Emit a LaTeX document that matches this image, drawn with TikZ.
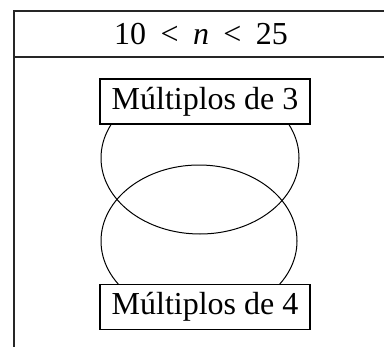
\documentclass[tikz,border=0pt]{standalone}
\usepackage{fontspec}
\setmainfont{Liberation Serif}
\usetikzlibrary{positioning}

\tikzset{
  setbox/.style={draw, fill=white, line width=0.6pt, minimum width=105pt,
                 minimum height=22.5pt, inner sep=0pt},
  frameline/.style={line width=0.8pt, draw=black!85},
  setline/.style={line width=0.5pt}
}

\begin{document}
\begin{tikzpicture}[x=0.5pt, y=-0.5pt, font=\fontsize{16}{18}\selectfont]

%---------------------------------------
% Sizes
%---------------------------------------
\def\Xl{14}
\def\Xr{384}
\def\Ytop{11}
\def\Ysep{57}
\def\Ybot{347}

\useasboundingbox (0,0) rectangle (384,347);

%====================================================
% Frame and header
%====================================================
\coordinate (tl) at (\Xl,\Ytop);
\coordinate (tr) at (\Xr,\Ytop);
\coordinate (sl) at (\Xl,\Ysep);
\coordinate (sr) at (\Xr,\Ysep);
\coordinate (bl) at (\Xl,\Ybot);

\draw[frameline] (tr) -- (tl) -- (bl);
\draw[frameline] (sl) -- (sr);

\node (range) at (201,34) {10\hspace{0.45em}<\hspace{0.45em}\textit{n}\hspace{0.45em}<\hspace{0.45em}25};

%====================================================
% Sets
%====================================================
\draw[setline] (200,158) ellipse [x radius=99, y radius=76];
\draw[setline] (199,241) ellipse [x radius=98, y radius=76];

\node[setbox] (three) at (205,101.5) {Múltiplos de 3};
\node[setbox] (four)  at (205,307)   {Múltiplos de 4};

\end{tikzpicture}
\end{document}
